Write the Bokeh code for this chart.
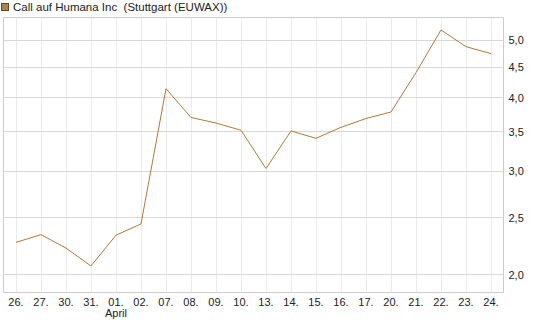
from bokeh.plotting import figure
from bokeh.models import Range1d, FixedTicker, Div
from bokeh.layouts import column
from bokeh.embed import file_html
from bokeh.resources import INLINE

dates = ["26.", "27.", "30.", "31.", "01.", "02.", "07.", "08.", "09.", "10.",
         "13.", "14.", "15.", "16.", "17.", "20.", "21.", "22.", "23.", "24."]
prices = [2.27, 2.34, 2.22, 2.07, 2.335, 2.44, 4.14, 3.70, 3.62, 3.52,
          3.03, 3.51, 3.41, 3.56, 3.685, 3.78, 4.41, 5.21, 4.88, 4.75]
y_ticks = [2.0, 2.5, 3.0, 3.5, 4.0, 4.5, 5.0]
y_labels = ["2,0", "2,5", "3,0", "3,5", "4,0", "4,5", "5,0"]
month_label = "April"
title_text = "Call auf Humana Inc&nbsp; (Stuttgart (EUWAX))"

FONT = "Liberation Sans"

header = Div(
    text=('<div style="position:relative;width:545px;height:16px;">'
          '<div style="position:absolute;left:1px;top:3px;width:8px;height:8px;'
          'background:#a8854a;border:1px solid #5e4a2c;"></div>'
          '<div style="position:absolute;left:13px;top:1px;font-family:\'Liberation Sans\',Arial,sans-serif;'
          'font-size:11.5px;line-height:13px;color:#222222;white-space:nowrap;">'
          + title_text + '</div></div>'),
    width=545, height=16, margin=(0, 0, 0, 0))

p = figure(width=545, height=311, y_axis_type="log", y_axis_location="right",
           output_backend="svg", toolbar_location=None, margin=(0, 0, 0, 0),
           x_range=Range1d(-0.5, 19.5), y_range=Range1d(1.866, 5.47))
p.min_border_left = 3
p.min_border_right = 42
p.min_border_top = 1
p.min_border_bottom = 35
p.outline_line_color = "#cccccc"
p.background_fill_color = "white"
p.border_fill_color = "white"

xs = list(range(len(dates)))
p.line(xs, prices, line_color="#b07a38", line_width=1)

# x axis
xa = p.xaxis[0]
xa.ticker = FixedTicker(ticks=xs)
overrides = {i: d for i, d in enumerate(dates)}
overrides[4] = dates[4] + "\n" + month_label
xa.major_label_overrides = overrides
xa.axis_line_color = None
xa.major_tick_out = 0
xa.major_tick_in = 0
xa.minor_tick_out = 0
xa.minor_tick_in = 0
xa.major_label_standoff = 3
xa.major_label_text_font = FONT
xa.major_label_text_font_size = "11px"
xa.major_label_text_line_height = 0.95
xa.major_label_text_color = "#222222"

# y axis
ya = p.yaxis[0]
ya.ticker = FixedTicker(ticks=y_ticks, minor_ticks=[])
ya.major_label_overrides = {t: l for t, l in zip(y_ticks, y_labels)}
ya.axis_line_color = None
ya.major_tick_out = 0
ya.major_tick_in = 0
ya.minor_tick_out = 0
ya.minor_tick_in = 0
ya.major_label_standoff = 5
ya.major_label_text_font = FONT
ya.major_label_text_font_size = "11px"
ya.major_label_text_color = "#222222"

p.xgrid.grid_line_color = "#ebebeb"
p.xgrid.ticker = FixedTicker(ticks=xs)
p.ygrid.grid_line_color = "#d8d8d8"
p.ygrid.ticker = FixedTicker(ticks=y_ticks, minor_ticks=[])

layout = column(header, p, spacing=0, margin=(0, 0, 0, 0))

open("out.html", "w").write(file_html(layout, INLINE))
